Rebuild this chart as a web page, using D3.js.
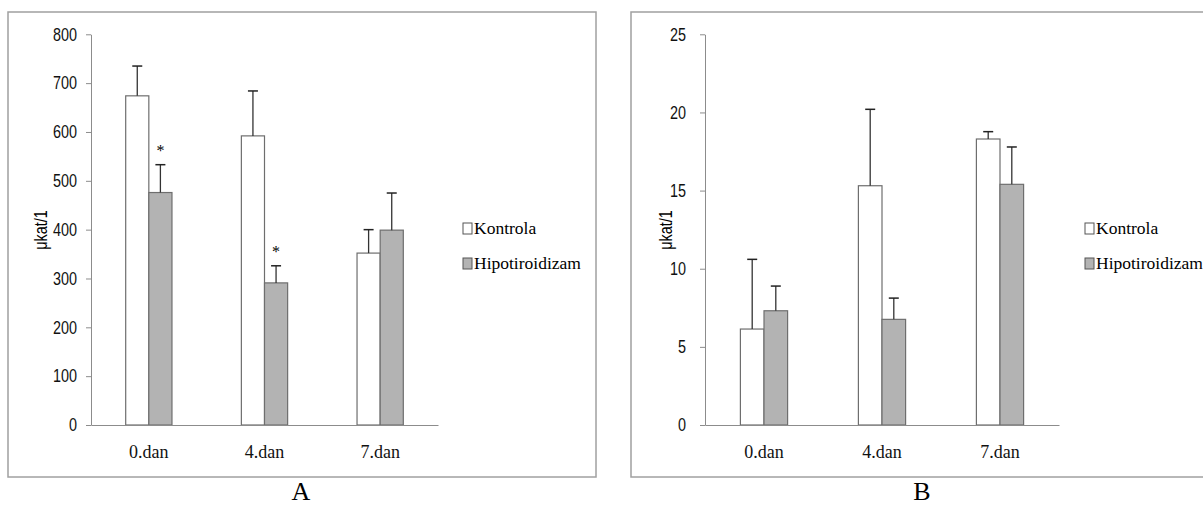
<!DOCTYPE html>
<html>
<head>
<meta charset="utf-8">
<script src="https://cdn.jsdelivr.net/npm/d3@7"></script>
<style>
  body { margin: 0; background: #fff; }
  svg { display: block; }
</style>
</head>
<body>
<div id="chart"></div>
<script>
// data
var days = ["0.dan", "4.dan", "7.dan"];
var seriesNames = ["Kontrola", "Hipotiroidizam"];

var kontrolaA = [674, 592, 352];
var kontrolaErrA = [61, 92, 48];
var hipoA = [476, 291, 399];
var hipoErrA = [57, 35, 76];
var starsA = [true, true, false]; // marks over hipotiroidizam bars
var ticksA = [0, 100, 200, 300, 400, 500, 600, 700, 800];

var kontrolaB = [6.14, 15.31, 18.3];
var kontrolaErrB = [4.46, 4.89, 0.47];
var hipoB = [7.31, 6.76, 15.4];
var hipoErrB = [1.58, 1.36, 2.39];
var starsB = [false, false, false];
var ticksB = [0, 5, 10, 15, 20, 25];

var fills = ["#ffffff", "#b3b3b3"];
var serif = "'Liberation Serif', 'Times New Roman', serif";
var sans = "'Liberation Sans', Arial, sans-serif";
var squeeze = 0.8; // the tick digits in the original are a narrow face

var svg = d3.select("#chart")
    .append("svg")
    .attr("width", 1203)
    .attr("height", 507);

function panel(cfg) {
    // frame
    svg.append("rect")
        .attr("x", cfg.box[0]).attr("y", cfg.box[1])
        .attr("width", cfg.box[2]).attr("height", cfg.box[3])
        .attr("fill", "#fff")
        .attr("stroke", "#a0a0a0")
        .attr("stroke-width", 1.5);

    var x = d3.scaleBand()
        .domain(days)
        .range(cfg.xRange)
        .paddingInner(0.6)
        .paddingOuter(0.3);

    var xs = d3.scaleBand()
        .domain(seriesNames)
        .range([0, x.bandwidth()]);

    var y = d3.scaleLinear()
        .domain([0, cfg.max])
        .range([425, 34.3]);

    // y axis
    var ya = svg.append("g")
        .attr("transform", "translate(" + cfg.xRange[0] + ",0)")
        .call(d3.axisLeft(y).tickValues(cfg.ticks).tickSize(5).tickSizeOuter(0).tickPadding(cfg.tickPad));
    ya.selectAll("path, line").attr("stroke", "#8c8c8c");
    ya.selectAll("text")
        .attr("x", -(5 + cfg.tickPad) / squeeze)
        .attr("transform", "scale(" + squeeze + ",1)")
        .style("font-family", sans)
        .style("font-size", "18px")
        .attr("fill", "#111");

    // bars
    var rows = days.map(function(d, i) {
        return [
            {day: d, s: seriesNames[0], v: cfg.k[i], e: cfg.ke[i], star: false},
            {day: d, s: seriesNames[1], v: cfg.h[i], e: cfg.he[i], star: cfg.stars[i]}
        ];
    });
    var flat = [].concat.apply([], rows);

    var g = svg.append("g");
    g.selectAll("rect.bar")
        .data(flat)
        .enter()
        .append("rect")
        .attr("class", "bar")
        .attr("x", function(d) { return x(d.day) + xs(d.s); })
        .attr("y", function(d) { return y(d.v); })
        .attr("width", xs.bandwidth())
        .attr("height", function(d) { return y(0) - y(d.v); })
        .attr("fill", function(d) { return d.s == seriesNames[0] ? fills[0] : fills[1]; })
        .attr("stroke", "#6e6e6e")
        .attr("stroke-width", 1.2);

    // error bars (upper only)
    g.selectAll("line.err")
        .data(flat)
        .enter()
        .append("line")
        .attr("x1", function(d) { return x(d.day) + xs(d.s) + xs.bandwidth() / 2; })
        .attr("x2", function(d) { return x(d.day) + xs(d.s) + xs.bandwidth() / 2; })
        .attr("y1", function(d) { return y(d.v); })
        .attr("y2", function(d) { return y(d.v + d.e); })
        .attr("stroke", "#333")
        .attr("stroke-width", 1.3);
    g.selectAll("line.cap")
        .data(flat)
        .enter()
        .append("line")
        .attr("x1", function(d) { return x(d.day) + xs(d.s) + xs.bandwidth() / 2 - 5; })
        .attr("x2", function(d) { return x(d.day) + xs(d.s) + xs.bandwidth() / 2 + 5; })
        .attr("y1", function(d) { return y(d.v + d.e); })
        .attr("y2", function(d) { return y(d.v + d.e); })
        .attr("stroke", "#222")
        .attr("stroke-width", 1.5);

    g.selectAll("text.star")
        .data(flat.filter(function(d) { return d.star; }))
        .enter()
        .append("text")
        .attr("x", function(d) { return x(d.day) + xs(d.s) + xs.bandwidth() / 2; })
        .attr("y", function(d) { return y(d.v + d.e) - 9; })
        .attr("text-anchor", "middle")
        .style("font-family", serif)
        .style("font-size", "16px")
        .text("*");

    // x axis
    var xa = svg.append("g")
        .attr("transform", "translate(0,425)")
        .call(d3.axisBottom(x).tickSize(0).tickSizeOuter(0).tickPadding(20));
    xa.select("path").attr("stroke", "#8c8c8c");
    xa.selectAll("text")
        .style("font-family", serif)
        .style("font-size", "18px")
        .attr("fill", "#111");

    // y title
    svg.append("text")
        .attr("transform", "translate(" + cfg.titleX + ",230) rotate(-90) scale(" + squeeze + ",1)")
        .attr("text-anchor", "middle")
        .attr("dy", "0.35em")
        .style("font-family", sans)
        .style("font-size", "18px")
        .text("μkat/1");

    // legend
    var lg = svg.append("g")
        .attr("transform", "translate(" + cfg.legX + ",0)");
    var legRows = lg.selectAll("g")
        .data(seriesNames)
        .enter()
        .append("g")
        .attr("transform", function(d, i) { return "translate(0," + (228 + i * 35) + ")"; });
    legRows.append("rect")
        .attr("x", 0).attr("y", -5)
        .attr("width", 9).attr("height", 11)
        .attr("fill", function(d, i) { return fills[i]; })
        .attr("stroke", "#555")
        .attr("stroke-width", 1);
    legRows.append("text")
        .attr("x", 11)
        .attr("dy", "0.35em")
        .style("font-family", serif)
        .style("font-size", "17.5px")
        .text(function(d) { return d; });

    // panel letter
    svg.append("text")
        .attr("x", cfg.letterX)
        .attr("y", 500)
        .attr("text-anchor", "middle")
        .style("font-family", serif)
        .style("font-size", "26px")
        .text(cfg.letter);
}

panel({
    box: [8, 12, 588, 465],
    xRange: [91, 438],
    max: 800, ticks: ticksA, tickPad: 9,
    k: kontrolaA, ke: kontrolaErrA, h: hipoA, he: hipoErrA, stars: starsA,
    titleX: 41, legX: 463, letterX: 301, letter: "A"
});

panel({
    box: [631, 12, 580, 465],
    xRange: [705, 1059],
    max: 25, ticks: ticksB, tickPad: 14,
    k: kontrolaB, ke: kontrolaErrB, h: hipoB, he: hipoErrB, stars: starsB,
    titleX: 666, legX: 1085, letterX: 922, letter: "B"
});
</script>
</body>
</html>
